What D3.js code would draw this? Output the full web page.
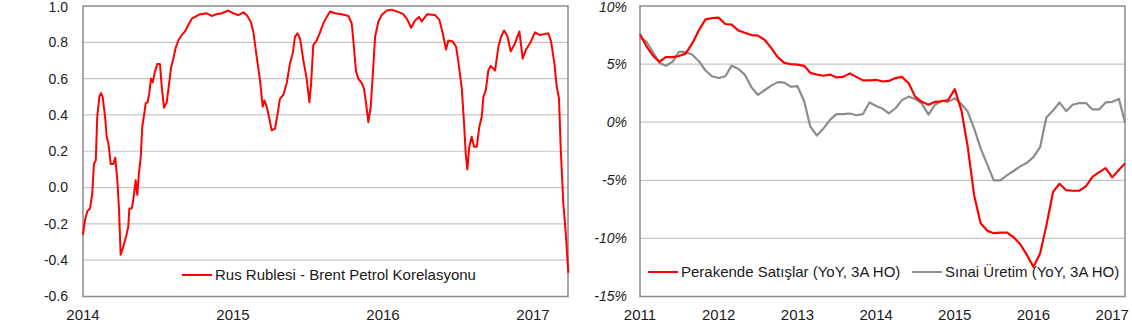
<!DOCTYPE html>
<html>
<head>
<meta charset="utf-8">
<script src="https://cdn.jsdelivr.net/npm/d3@7"></script>
<style>
  body { margin: 0; background: #fff; }
  svg text { font-family: "Liberation Sans", Arial, sans-serif; fill: #1a1a1a; }
</style>
</head>
<body>
<svg id="chart" width="1132" height="324"></svg>
<script>
// left panel: ruble / brent correlation (decimal years)
const corrYears = [
  2014.000, 2014.013, 2014.029, 2014.047, 2014.062, 2014.073, 2014.085, 2014.095, 2014.109, 2014.120,
  2014.131, 2014.147, 2014.158, 2014.169, 2014.185, 2014.202, 2014.215, 2014.229, 2014.240, 2014.251,
  2014.269, 2014.287, 2014.302, 2014.309, 2014.325, 2014.335, 2014.351, 2014.362, 2014.373, 2014.385,
  2014.395, 2014.409, 2014.418, 2014.431, 2014.442, 2014.453, 2014.465, 2014.480, 2014.495, 2014.513,
  2014.525, 2014.540, 2014.558, 2014.573, 2014.587, 2014.602, 2014.618, 2014.635, 2014.658, 2014.680,
  2014.702, 2014.725, 2014.747, 2014.780, 2014.825, 2014.858, 2014.891, 2014.925, 2014.969, 2015.002,
  2015.035, 2015.069, 2015.091, 2015.118, 2015.135, 2015.158, 2015.180, 2015.198, 2015.209, 2015.225,
  2015.242, 2015.258, 2015.280, 2015.298, 2015.313, 2015.335, 2015.358, 2015.380, 2015.398, 2015.413,
  2015.429, 2015.447, 2015.469, 2015.491, 2015.509, 2015.520, 2015.535, 2015.558, 2015.580, 2015.602,
  2015.625, 2015.647, 2015.680, 2015.725, 2015.769, 2015.791, 2015.802, 2015.820, 2015.835, 2015.858,
  2015.873, 2015.887, 2015.902, 2015.918, 2015.935, 2015.947, 2015.969, 2015.991, 2016.025, 2016.058,
  2016.091, 2016.135, 2016.162, 2016.187, 2016.213, 2016.240, 2016.258, 2016.295, 2016.347, 2016.375,
  2016.398, 2016.420, 2016.435, 2016.465, 2016.487, 2016.502, 2016.525, 2016.540, 2016.551, 2016.562,
  2016.575, 2016.591, 2016.607, 2016.625, 2016.642, 2016.658, 2016.669, 2016.685, 2016.702, 2016.718,
  2016.747, 2016.769, 2016.787, 2016.807, 2016.829, 2016.851, 2016.880, 2016.909, 2016.931, 2016.953,
  2016.980, 2017.013, 2017.047, 2017.073, 2017.102, 2017.120, 2017.142, 2017.158, 2017.173, 2017.185,
  2017.202, 2017.218, 2017.235
];
const corrValues = [
  -0.26, -0.18, -0.13, -0.115, -0.03, 0.13, 0.15, 0.39, 0.50, 0.52,
  0.50, 0.39, 0.28, 0.245, 0.13, 0.13, 0.165, 0.04, -0.12, -0.37,
  -0.325, -0.27, -0.215, -0.115, -0.115, -0.07, 0.04, -0.04, 0.08, 0.17,
  0.335, 0.41, 0.465, 0.47, 0.52, 0.60, 0.58, 0.64, 0.68, 0.68,
  0.555, 0.44, 0.47, 0.565, 0.66, 0.71, 0.77, 0.81, 0.84, 0.86,
  0.895, 0.93, 0.94, 0.955, 0.96, 0.945, 0.955, 0.96, 0.975, 0.96,
  0.95, 0.965, 0.95, 0.915, 0.86, 0.72, 0.59, 0.445, 0.48, 0.445,
  0.38, 0.315, 0.325, 0.41, 0.49, 0.51, 0.575, 0.685, 0.74, 0.83,
  0.85, 0.82, 0.70, 0.60, 0.47, 0.565, 0.785, 0.81, 0.855, 0.905,
  0.94, 0.97, 0.96, 0.955, 0.945, 0.905, 0.81, 0.64, 0.60, 0.575,
  0.545, 0.465, 0.36, 0.445, 0.665, 0.83, 0.915, 0.95, 0.975, 0.98,
  0.97, 0.955, 0.925, 0.88, 0.92, 0.94, 0.915, 0.955, 0.95, 0.925,
  0.85, 0.76, 0.81, 0.805, 0.775, 0.695, 0.545, 0.355, 0.19, 0.10,
  0.225, 0.28, 0.225, 0.225, 0.335, 0.39, 0.50, 0.535, 0.645, 0.67,
  0.645, 0.775, 0.83, 0.865, 0.835, 0.75, 0.795, 0.86, 0.71, 0.76,
  0.795, 0.855, 0.84, 0.845, 0.85, 0.805, 0.685, 0.555, 0.49, 0.205,
  -0.09, -0.25, -0.47
];
const corrTicks = [-0.6, -0.4, -0.2, 0.0, 0.2, 0.4, 0.6, 0.8, 1.0];
const corrYearTicks = [2014, 2015, 2016, 2017];
const corrLabel = "Rus Rublesi - Brent Petrol Korelasyonu";

// right panel: monthly, Jan 2011 - Mar 2017
const months = d3.timeMonth.range(new Date(2011, 0, 1), new Date(2017, 3, 1));
const retailSales = [
  7.6, 6.5, 5.75, 5.2, 5.6, 5.6, 5.7, 5.9, 6.8, 7.9,
  8.85, 8.95, 9.0, 8.45, 8.4, 7.9, 7.7, 7.5, 7.45, 7.1,
  6.4, 5.6, 5.1, 5.0, 4.95, 4.85, 4.25, 4.1, 4.0, 4.1,
  3.85, 3.9, 4.2, 3.9, 3.6, 3.6, 3.65, 3.5, 3.55, 3.8,
  3.9, 3.35, 2.2, 1.75, 1.5, 1.75, 1.8, 1.9, 2.85, 1.0,
  -2.0, -6.3, -8.7, -9.35, -9.55, -9.5, -9.5, -9.9, -10.5, -11.4,
  -12.45, -11.3, -8.9, -6.0, -5.3, -5.85, -5.9, -5.9, -5.5, -4.7,
  -4.3, -3.95, -4.75, -4.1, -3.55
];
const industrialProd = [
  7.3, 6.9, 6.05, 5.1, 4.85, 5.2, 6.05, 6.05, 5.8, 5.25,
  4.45, 3.95, 3.8, 3.95, 4.85, 4.6, 4.1, 3.0, 2.35, 2.75,
  3.15, 3.45, 3.4, 3.05, 3.1, 1.8, -0.35, -1.15, -0.55, 0.2,
  0.7, 0.7, 0.75, 0.6, 0.7, 1.7, 1.4, 1.15, 0.75, 1.2,
  1.9, 2.2, 2.0, 1.6, 0.65, 1.5, 1.85, 1.75, 2.05, 1.55,
  0.95, -0.55, -2.25, -3.65, -5.0, -5.0, -4.55, -4.2, -3.8, -3.5,
  -3.0, -2.15, 0.4, 1.0, 1.7, 0.95, 1.5, 1.65, 1.65, 1.1,
  1.1, 1.7, 1.75, 2.0, -0.05
];
const pctTicks = [-15, -10, -5, 0, 5, 10];
const pctYearTicks = [2011, 2012, 2013, 2014, 2015, 2016, 2017];
const retailLabel = "Perakende Satışlar (YoY, 3A HO)";
const industryLabel = "Sınai Üretim (YoY, 3A HO)";

const svg = d3.select("#chart");
const gridColor = "#c6c6c6";
const frameColor = "#8a8a8a";

// ---------- left panel ----------
const L = { left: 83, right: 568, top: 6, bottom: 296.5 };
const xL = d3.scaleLinear().domain([2014, 2017.233]).range([L.left, L.right]);
const yL = d3.scaleLinear().domain([-0.6, 1.0]).range([L.bottom, L.top]);

const gL = svg.append("g");
gL.selectAll(".grid")
  .data(corrTicks.slice(1, -1))
  .join("line")
  .attr("class", "grid")
  .attr("x1", L.left).attr("x2", L.right)
  .attr("y1", (d) => yL(d)).attr("y2", (d) => yL(d))
  .attr("stroke", gridColor).attr("stroke-width", 1.2);
gL.append("rect")
  .attr("x", L.left).attr("y", L.top)
  .attr("width", L.right - L.left).attr("height", L.bottom - L.top)
  .attr("fill", "none").attr("stroke", frameColor).attr("stroke-width", 1.5);

gL.selectAll(".ylab")
  .data(corrTicks)
  .join("text")
  .attr("class", "ylab")
  .attr("x", 68).attr("y", (d) => Math.max(yL(d), 7.5))
  .attr("dy", "0.35em")
  .attr("text-anchor", "end")
  .style("font-size", "14px")
  .text((d) => d.toFixed(1));
gL.selectAll(".xlab")
  .data(corrYearTicks)
  .join("text")
  .attr("class", "xlab")
  .attr("x", (d) => xL(d)).attr("y", 320)
  .attr("text-anchor", "middle")
  .style("font-size", "15px")
  .text((d) => d);

const corrLine = d3.line()
  .x((d, i) => xL(corrYears[i]))
  .y((d) => yL(d));
gL.append("path")
  .datum(corrValues)
  .attr("d", corrLine)
  .attr("fill", "none")
  .attr("stroke", "#ff0000")
  .attr("stroke-width", 2)
  .attr("stroke-linejoin", "round");

gL.append("line")
  .attr("x1", 182).attr("x2", 212).attr("y1", 275).attr("y2", 275)
  .attr("stroke", "#ff0000").attr("stroke-width", 2);
gL.append("text")
  .attr("x", 215).attr("y", 275).attr("dy", "0.35em")
  .style("font-size", "15px")
  .text(corrLabel);

// ---------- right panel ----------
const R = { left: 640, right: 1125, top: 6, bottom: 296.5 };
const xR = d3.scaleTime().domain([months[0], months[months.length - 1]]).range([R.left, R.right]);
const yR = d3.scaleLinear().domain([-15, 10]).range([R.bottom, R.top]);

const gR = svg.append("g");
gR.selectAll(".grid")
  .data(pctTicks.slice(1, -1))
  .join("line")
  .attr("class", "grid")
  .attr("x1", R.left).attr("x2", R.right)
  .attr("y1", (d) => yR(d)).attr("y2", (d) => yR(d))
  .attr("stroke", gridColor).attr("stroke-width", 1.2);
gR.append("rect")
  .attr("x", R.left).attr("y", R.top)
  .attr("width", R.right - R.left).attr("height", R.bottom - R.top)
  .attr("fill", "none").attr("stroke", frameColor).attr("stroke-width", 1.5);

gR.selectAll(".ylab")
  .data(pctTicks)
  .join("text")
  .attr("class", "ylab")
  .attr("x", 627).attr("y", (d) => Math.max(yR(d), 7.5))
  .attr("dy", "0.35em")
  .attr("text-anchor", "end")
  .style("font-size", "14px")
  .style("font-style", "italic")
  .text((d) => d + "%");
gR.selectAll(".xlab")
  .data(pctYearTicks)
  .join("text")
  .attr("class", "xlab")
  .attr("x", (d) => xR(new Date(d, 0, 1))).attr("y", 320)
  .attr("text-anchor", "middle")
  .style("font-size", "15px")
  .text((d) => d);

const monthLine = d3.line()
  .x((d, i) => xR(months[i]))
  .y((d) => yR(d));
gR.append("path")
  .datum(industrialProd)
  .attr("d", monthLine)
  .attr("fill", "none")
  .attr("stroke", "#8c8c8c")
  .attr("stroke-width", 2.2)
  .attr("stroke-linejoin", "round");
gR.append("path")
  .datum(retailSales)
  .attr("d", monthLine)
  .attr("fill", "none")
  .attr("stroke", "#ff0000")
  .attr("stroke-width", 2.2)
  .attr("stroke-linejoin", "round");

const legendR = [
  { label: retailLabel, color: "#ff0000", x: 648 },
  { label: industryLabel, color: "#8c8c8c", x: 912 }
];
legendR.forEach((d) => {
  gR.append("line")
    .attr("x1", d.x).attr("x2", d.x + 30).attr("y1", 272).attr("y2", 272)
    .attr("stroke", d.color).attr("stroke-width", 2);
  gR.append("text")
    .attr("x", d.x + 33).attr("y", 272).attr("dy", "0.35em")
    .style("font-size", "15px")
    .text(d.label);
});
</script>
</body>
</html>
